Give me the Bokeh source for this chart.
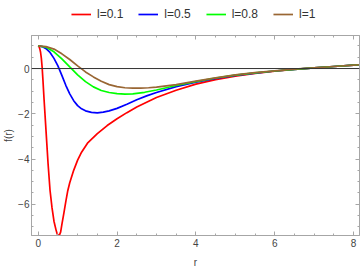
from bokeh.plotting import figure
from bokeh.layouts import column
from bokeh.models import (Range1d, Span, Legend, LegendItem, LinearAxis,
                          SingleIntervalTicker, CustomJSTickFormatter)
from bokeh.embed import file_html
from bokeh.resources import INLINE

# ---- data ----
r_red = [0, 0.02, 0.04, 0.06, 0.08, 0.1, 0.12, 0.15, 0.2, 0.25, 0.3, 0.35, 0.4, 0.45,
         0.48, 0.51, 0.54, 0.57, 0.6, 0.65, 0.7, 0.75, 0.8, 0.9, 1.0, 1.1, 1.25, 1.5,
         1.75, 2.0, 2.25, 2.5, 3.0, 3.5, 4.0, 4.5, 5.0, 5.5, 6.0, 6.5, 7.0, 7.5, 8.0, 8.2]
f_red = [1.0, 0.97, 0.88, 0.72, 0.45, 0.05, -0.5, -1.4, -2.8, -4.2, -5.38, -6.15, -6.75,
         -7.12, -7.3, -7.38, -7.36, -7.22, -6.9, -6.4, -5.88, -5.4, -5.05, -4.5, -4.05,
         -3.7, -3.3, -2.88, -2.52, -2.22, -1.95, -1.7, -1.28, -0.96, -0.69, -0.49, -0.34,
         -0.22, -0.12, -0.04, 0.03, 0.09, 0.15, 0.17]

r_blue = [0, 0.1, 0.2, 0.3, 0.4, 0.5, 0.6, 0.7, 0.8, 0.9, 1.0, 1.1, 1.2, 1.35, 1.5,
          1.65, 1.8, 2.0, 2.25, 2.5, 2.75, 3.0, 3.5, 4.0, 4.5, 5.0, 5.5, 6.0, 6.5, 7.0,
          7.5, 8.0, 8.2]
f_blue = [1.0, 0.97, 0.88, 0.71, 0.45, 0.12, -0.3, -0.74, -1.12, -1.42, -1.64, -1.78,
          -1.87, -1.94, -1.96, -1.93, -1.87, -1.76, -1.58, -1.38, -1.21, -1.06, -0.8,
          -0.6, -0.44, -0.3, -0.2, -0.11, -0.04, 0.03, 0.09, 0.15, 0.17]

r_green = [0, 0.2, 0.4, 0.6, 0.8, 1.0, 1.2, 1.4, 1.6, 1.8, 2.0, 2.2, 2.4, 2.7, 3.0,
           3.5, 4.0, 4.5, 5.0, 5.5, 6.0, 6.5, 7.0, 7.5, 8.0, 8.2]
f_green = [1.0, 0.94, 0.74, 0.43, 0.07, -0.28, -0.58, -0.81, -0.97, -1.06, -1.11,
           -1.13, -1.12, -1.05, -0.95, -0.75, -0.58, -0.42, -0.29, -0.19, -0.11, -0.04,
           0.03, 0.09, 0.15, 0.17]

r_brown = [0, 0.2, 0.4, 0.6, 0.8, 1.0, 1.2, 1.4, 1.6, 1.8, 2.0, 2.2, 2.4, 2.6, 2.8,
           3.0, 3.5, 4.0, 4.5, 5.0, 5.5, 6.0, 6.5, 7.0, 7.5, 8.0, 8.2]
f_brown = [1.0, 0.97, 0.86, 0.65, 0.4, 0.12, -0.15, -0.37, -0.56, -0.71, -0.8, -0.85,
           -0.87, -0.87, -0.85, -0.82, -0.71, -0.56, -0.41, -0.28, -0.18, -0.1, -0.03,
           0.03, 0.09, 0.15, 0.17]

labels = ["l=0.1", "l=0.5", "l=0.8", "l=1"]
colors = ["#ff0000", "#0000ff", "#00ff00", "#996633"]
series = [(r_red, f_red), (r_blue, f_blue), (r_green, f_green), (r_brown, f_brown)]

FONT = "Liberation Sans"
FRAME = "#a6a6a6"
TXT = "#444444"
LW = 1.7
W = 360

# ---------- main plot ----------
p = figure(width=W, height=238, output_backend="svg", toolbar_location=None,
           x_range=Range1d(-0.17, 8.15), y_range=Range1d(-7.38, 1.46),
           x_axis_label="r", y_axis_label="f(r)")
p.min_border_left = 0
p.min_border_right = 1
p.min_border_top = 3
p.min_border_bottom = 0
p.grid.visible = False
p.outline_line_color = FRAME
p.background_fill_color = "white"
p.border_fill_color = "white"

p.add_layout(Span(location=0, dimension="width", line_color="#333333", line_width=1))

for (xs, ys), c in zip(series, colors):
    p.line(xs, ys, line_color=c, line_width=LW)

def style_axis(ax, show_labels=True):
    ax.ticker = SingleIntervalTicker(interval=2, num_minor_ticks=4)
    ax.axis_line_color = FRAME
    ax.major_tick_line_color = FRAME
    ax.minor_tick_line_color = FRAME
    ax.major_tick_in = 4
    ax.major_tick_out = 0
    ax.minor_tick_in = 2
    ax.minor_tick_out = 0
    if show_labels:
        ax.major_label_text_font = FONT
        ax.major_label_text_font_size = "10px"
        ax.major_label_text_color = TXT
        ax.axis_label_text_font = FONT
        ax.axis_label_text_font_size = "10px"
        ax.axis_label_text_font_style = "normal"
        ax.axis_label_text_color = TXT
    else:
        ax.major_label_text_font_size = "0px"
        ax.major_label_standoff = 0
        ax.formatter = CustomJSTickFormatter(code="return ''")

style_axis(p.xaxis[0])
style_axis(p.yaxis[0])
p.xaxis[0].major_label_standoff = 3
p.xaxis[0].axis_label_standoff = 7
p.yaxis[0].major_label_standoff = 2
p.yaxis[0].axis_label_standoff = 1

top_ax = LinearAxis()
right_ax = LinearAxis()
style_axis(top_ax, False)
style_axis(right_ax, False)
p.add_layout(top_ax, "above")
p.add_layout(right_ax, "right")

# ---------- legend strip above the plot ----------
lg = figure(width=W, height=32, output_backend="svg", toolbar_location=None,
            x_range=Range1d(100, 101), y_range=Range1d(100, 101),
            x_axis_location=None, y_axis_location=None)
lg.min_border = 0
lg.grid.visible = False
lg.outline_line_color = None
lg.background_fill_color = "white"
lg.border_fill_color = "white"
items = []
for (xs, ys), c, l in zip(series, colors, labels):
    rr = lg.line(xs, ys, line_color=c, line_width=LW)
    items.append(LegendItem(label=l, renderers=[rr]))

legend = Legend(items=items, orientation="horizontal", location="top_center",
                glyph_width=20, glyph_height=12, label_height=12, label_standoff=6,
                spacing=15, padding=0, margin=7,
                label_text_font=FONT, label_text_font_size="12px", label_text_color="#333333",
                border_line_color=None, background_fill_alpha=0)
lg.add_layout(legend, "center")

layout = column(lg, p, spacing=0)
open("out.html", "w").write(file_html(layout, INLINE))
